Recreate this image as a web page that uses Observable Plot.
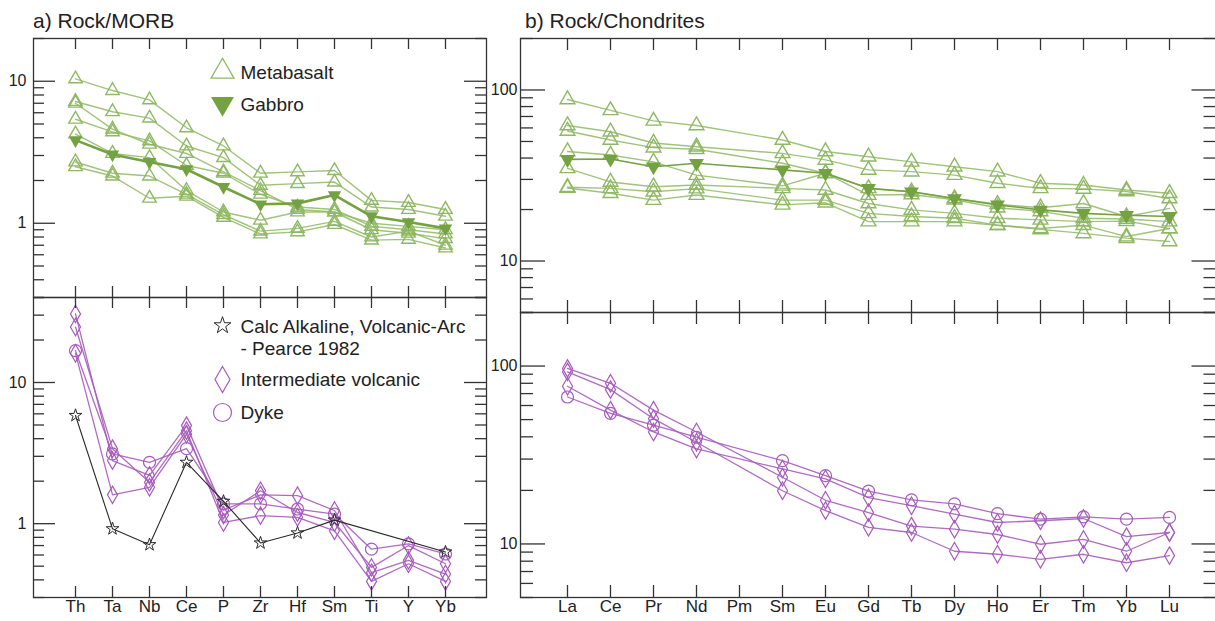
<!DOCTYPE html>
<html><head><meta charset="utf-8">
<script src="https://cdn.jsdelivr.net/npm/d3@7"></script>
<script src="https://cdn.jsdelivr.net/npm/@observablehq/plot@0.6"></script>
<style>
body{margin:0;background:#fff;}
#wrap{position:relative;width:1215px;height:621px;overflow:hidden;background:#fff;font-family:"Liberation Sans",Arial,sans-serif;}
.panel{position:absolute;}
.title{position:absolute;font-size:21px;line-height:21px;color:#222;white-space:nowrap;}
</style></head><body>
<div id="wrap">
<div class="title" style="left:33px;top:10px">a) Rock/MORB</div>
<div class="title" style="left:525px;top:10px">b) Rock/Chondrites</div>
</div>
<script>
// ---------- data ----------
const morbElements = ["Th","Ta","Nb","Ce","P","Zr","Hf","Sm","Ti","Y","Yb"];
const reeElements = ["La","Ce","Pr","Nd","Pm","Sm","Eu","Gd","Tb","Dy","Ho","Er","Tm","Yb","Lu"];

const metabasaltMorb = [
  [10.4, 8.6, 7.4, 4.7, 3.5, 2.25, 2.3, 2.35, 1.45, 1.4, 1.25],
  [7.2, 6.1, 5.5, 3.5, 2.9, 1.85, 1.9, 1.95, 1.3, 1.25, 1.12],
  [7.0, 4.6, 3.6, 3.1, 2.3, 1.7, 1.25, 1.2, 1.0, 0.95, 0.9],
  [5.4, 4.4, 3.8, 2.55, 2.25, 1.6, 1.3, 1.25, 0.95, 0.9, 0.84],
  [4.25, 3.1, 2.9, 1.7, 1.2, 1.05, 1.2, 1.2, 0.9, 0.85, 0.78],
  [2.7, 2.25, 2.15, 1.6, 1.15, 0.88, 0.92, 1.03, 0.8, 0.88, 0.7],
  [2.5, 2.15, 1.5, 1.55, 1.1, 0.84, 0.87, 0.98, 0.76, 0.77, 0.67]
];
const gabbroMorb = [3.85, 3.05, 2.7, 2.4, 1.8, 1.36, 1.38, 1.58, 1.12, 1.02, 0.92];

const intermediateMorb = [
  [30.6, 2.8, 2.2, 4.95, 1.25, 1.6, 1.58, 1.24, 0.45, 0.55, 0.44],
  [24.7, 3.4, 1.96, 4.56, 1.02, 1.14, 1.11, 0.89, 0.39, 0.52, 0.39],
  [16.1, 1.6, 1.81, 4.3, 1.15, 1.71, 1.2, 1.02, 0.49, 0.7, 0.52]
];
const dykeMorb = [
  [16.8, 3.12, 2.72, 3.4, 1.38, 1.38, 1.27, 1.17, 0.66, 0.72, 0.61]
];
const calcAlkalineMorb = [5.84, 0.92, 0.71, 2.72, 1.44, 0.73, 0.86, 1.06, null, null, 0.63];

const metabasaltChondrite = [
  [88, 76, 66, 62, null, 51, 43.7, 40.7, 38, 35.6, 33.3, 28.5, 27.8, 26, 24.9],
  [62, 57, 49, 46.6, null, 42.6, 39, 34.1, 33.3, 31.8, 28.5, 26.6, 26.4, 25.5, 23.2],
  [57.6, 51, 46, 45, null, 37.3, 32.6, 26.6, 25.4, 23.2, 21.5, 20.5, 21.7, 18.2, 20.3],
  [43.7, 41.7, 38, 31.8, null, 27.5, 32.6, 24.3, 24.5, 22.8, 20.5, 19.5, 17.8, 17.6, 17.0],
  [34.8, 29, 27.2, 27.8, null, 26.6, 26, 21.7, 19.9, 19.0, 17.8, 17.4, 17.0, 17.1, 15.5],
  [27, 26.6, 25.4, 26.5, null, 22.7, 22.7, 19.0, 18.2, 17.8, 16.2, 15.5, 16.2, 13.9, 15.5],
  [26.7, 24.9, 22.7, 24.3, null, 21.3, 21.9, 17.0, 17.0, 17.0, 16.2, 15.3, 14.5, 13.6, 13.0]
];
const gabbroChondrite = [39.3, 39.5, 35.6, 37.3, null, 34.1, 32.6, 26.6, 25.4, 23.2, 21.3, 19.9, 19.0, 18.5, 18.2];

const intermediateChondrite = [
  [97, 80, 56.5, 42.6, null, 23.7, 17.6, 15.0, 12.6, 12.1, 11.3, 9.96, 10.6, 9.1, 11.6],
  [92.7, 73.7, 50.6, 37.3, null, 19.9, 15.4, 12.4, 11.6, 9.1, 8.75, 8.2, 8.75, 7.84, 8.6],
  [77, 56.5, 42.6, 34.2, null, 26.4, 23.2, 18.2, 16.4, 14.7, 13.2, 13.5, 13.9, 11.0, 11.6]
];
const dykeChondrite = [
  [67, 54.2, 46.5, 39.8, null, 29.4, 24.2, 19.8, 17.7, 16.8, 14.8, 13.8, 14.2, 13.8, 14.1]
];

// tick values
const morbTopTicks = [0.3,0.4,0.5,0.6,0.7,0.8,0.9,1,2,3,4,5,6,7,8,9,10,20];
const morbBottomTicks = [0.3,0.4,0.5,0.6,0.7,0.8,0.9,1,2,3,4,5,6,7,8,9,10,20,30,40];
const morbMajor = [1, 10];
const chondriteTicks = [5,6,7,8,9,10,20,30,40,50,60,70,80,90,100,200];
const chondriteMajor = [10, 100];

// ---------- helpers ----------
const C = {green: "#8fb865", gabbro: "#74a142", purple: "#a65bbb", calc: "#2a2a2a", axis: "#333", text: "#222"};
const triangleDown = {draw(ctx, size) {
  const y = -Math.sqrt(size / (Math.sqrt(3) * 3));
  ctx.moveTo(0, -2 * y); ctx.lineTo(-Math.sqrt(3) * y, y); ctx.lineTo(Math.sqrt(3) * y, y); ctx.closePath();
}};
function tidy(elements, rows, group) {
  return rows.flatMap((vals, i) => vals.map((v, j) => ({el: elements[j], v, s: group + i}))).filter(d => d.v != null);
}
const wrap = document.getElementById("wrap");

function panel(cfg) {
  const fw = cfg.width - cfg.ml - cfg.mr, fh = cfg.height - cfg.mt - cfg.mb;
  const minor = cfg.ticks.filter(t => !cfg.major.includes(t));
  const ts = {stroke: C.axis, strokeWidth: 1.3};
  const marks = [
    ...cfg.marks,
    Plot.frame(ts),
    Plot.tickX(cfg.elements, {x: d => d, insetBottom: fh - cfg.xLen, ...ts}),
    Plot.tickX(cfg.elements, {x: d => d, insetTop: fh - cfg.xLen, ...ts}),
    Plot.tickY(cfg.major, {y: d => d, insetRight: fw - cfg.majorLen, ...ts}),
    Plot.tickY(cfg.major, {y: d => d, insetLeft: fw - cfg.majorLen, ...ts}),
    Plot.tickY(minor, {y: d => d, insetRight: fw - cfg.minorLen, ...ts}),
    Plot.tickY(minor, {y: d => d, insetLeft: fw - cfg.minorLen, ...ts}),
    Plot.text(cfg.major, {y: d => d, text: d => String(d), frameAnchor: "left", textAnchor: "end", dx: -cfg.labelPad, fontSize: 16, fill: C.text}),
    ...(cfg.xLabels ? [Plot.text(cfg.elements, {x: d => d, text: d => d, frameAnchor: "bottom", dy: 14, fontSize: 17, fill: C.text})] : []),
    ...(cfg.legend || [])
  ];
  const svg = Plot.plot({
    width: cfg.width, height: cfg.height,
    marginLeft: cfg.ml, marginRight: cfg.mr, marginTop: cfg.mt, marginBottom: cfg.mb,
    style: {background: "transparent", fontFamily: "'Liberation Sans', Arial, sans-serif", fontSize: "17px", color: C.text, maxWidth: "none", overflow: "visible"},
    x: {type: "point", domain: cfg.elements, padding: 1, axis: null},
    y: {type: "log", domain: cfg.yDomain, axis: null},
    marks
  });
  const div = document.createElement("div");
  div.className = "panel";
  div.style.left = cfg.left + "px"; div.style.top = cfg.top + "px"; div.style.width = cfg.width + "px";
  div.appendChild(svg);
  wrap.appendChild(div);
}

function legendItem(dx, dy, symbolOpts, label, textDy) {
  return [
    Plot.dot([0], {frameAnchor: "top-left", dx, dy, ...symbolOpts}),
    Plot.text([label], {frameAnchor: "top-left", dx: dx + 18, dy: textDy, text: d => d, textAnchor: "start", fontSize: 19, fill: C.text})
  ];
}

// ---------- tables ----------
const mbM = tidy(morbElements, metabasaltMorb, "mb");
const gbM = tidy(morbElements, [gabbroMorb], "gb");
const ivM = tidy(morbElements, intermediateMorb, "iv");
const dkM = tidy(morbElements, dykeMorb, "dk");
const caM = tidy(morbElements, [calcAlkalineMorb], "ca");
const mbC = tidy(reeElements, metabasaltChondrite, "mb");
const gbC = tidy(reeElements, [gabbroChondrite], "gb");
const ivC = tidy(reeElements, intermediateChondrite, "iv");
const dkC = tidy(reeElements, dykeChondrite, "dk");

const xy = {x: "el", y: "v", z: "s"};
const greenMarks = (mb, gb, r, gw) => [
  Plot.line(mb, {...xy, stroke: C.green, strokeWidth: 1.4, strokeOpacity: 0.85}),
  Plot.dot(mb, {x: "el", y: "v", symbol: "triangle", r, stroke: C.green, strokeWidth: 1.4, fill: "none"}),
  Plot.line(gb, {...xy, stroke: C.gabbro, strokeWidth: gw}),
  Plot.dot(gb, {x: "el", y: "v", symbol: triangleDown, r, fill: C.gabbro})
];
const purpleMarks = (iv, dk) => [
  Plot.line(iv, {...xy, stroke: C.purple, strokeWidth: 1.3, strokeOpacity: 0.9}),
  Plot.line(dk, {...xy, stroke: C.purple, strokeWidth: 1.3, strokeOpacity: 0.9}),
  Plot.dot(iv, {x: "el", y: "v", symbol: "diamond", r: 5.3, stroke: C.purple, strokeWidth: 1.2, fill: "none"}),
  Plot.dot(dk, {x: "el", y: "v", symbol: "circle", r: 6, stroke: C.purple, strokeWidth: 1.2, fill: "none"})
];

// ---------- panels ----------
panel({
  left: 0, top: 0, width: 500, height: 310, ml: 33, mr: 14, mt: 38, mb: 13,
  elements: morbElements, yDomain: [0.3, 20], ticks: morbTopTicks, major: morbMajor,
  majorLen: 22, minorLen: 11, xLen: 11, labelPad: 7, xLabels: false,
  marks: greenMarks(mbM, gbM, 5, 2.6),
  legend: [
    ...legendItem(189, 33, {symbol: "triangle", r: 8.5, stroke: C.green, strokeWidth: 1.3, fill: "none"}, "Metabasalt", 27),
    ...legendItem(189, 65, {symbol: triangleDown, r: 8.5, fill: C.gabbro}, "Gabbro", 59)
  ]
});
panel({
  left: 0, top: 285, width: 500, height: 336, ml: 33, mr: 14, mt: 12, mb: 24,
  elements: morbElements, yDomain: [0.3, 40], ticks: morbBottomTicks, major: morbMajor,
  majorLen: 22, minorLen: 11, xLen: 11, labelPad: 7, xLabels: true,
  marks: [
    ...purpleMarks(ivM, dkM),
    Plot.line(caM, {...xy, stroke: C.calc, strokeWidth: 1.1}),
    Plot.dot(caM, {x: "el", y: "v", symbol: "star", r: 4, stroke: C.calc, strokeWidth: 1, fill: "none"})
  ],
  legend: [
    ...legendItem(189, 28, {symbol: "star", r: 5.3, stroke: C.calc, strokeWidth: 1, fill: "none"}, "Calc Alkaline, Volcanic-Arc", 22),
    Plot.text(["- Pearce 1982"], {frameAnchor: "top-left", dx: 207, dy: 44, text: d => d, textAnchor: "start", fontSize: 19, fill: C.text}),
    ...legendItem(189, 82, {symbol: "diamond", r: 7.9, stroke: C.purple, strokeWidth: 1.2, fill: "none"}, "Intermediate volcanic", 75),
    ...legendItem(189, 115, {symbol: "circle", r: 9, stroke: C.purple, strokeWidth: 1.2, fill: "none"}, "Dyke", 108)
  ]
});
panel({
  left: 470, top: 0, width: 760, height: 325, ml: 50, mr: 13.5, mt: 38, mb: 13,
  elements: reeElements, yDomain: [5, 200], ticks: chondriteTicks, major: chondriteMajor,
  majorLen: 25, minorLen: 13, xLen: 12, labelPad: 3, xLabels: false,
  marks: greenMarks(mbC, gbC, 5.5, 1.6)
});
panel({
  left: 470, top: 300, width: 760, height: 321, ml: 50, mr: 13.5, mt: 12, mb: 24,
  elements: reeElements, yDomain: [5, 200], ticks: chondriteTicks, major: chondriteMajor,
  majorLen: 25, minorLen: 13, xLen: 12, labelPad: 3, xLabels: true,
  marks: purpleMarks(ivC, dkC)
});
</script>
</body></html>
